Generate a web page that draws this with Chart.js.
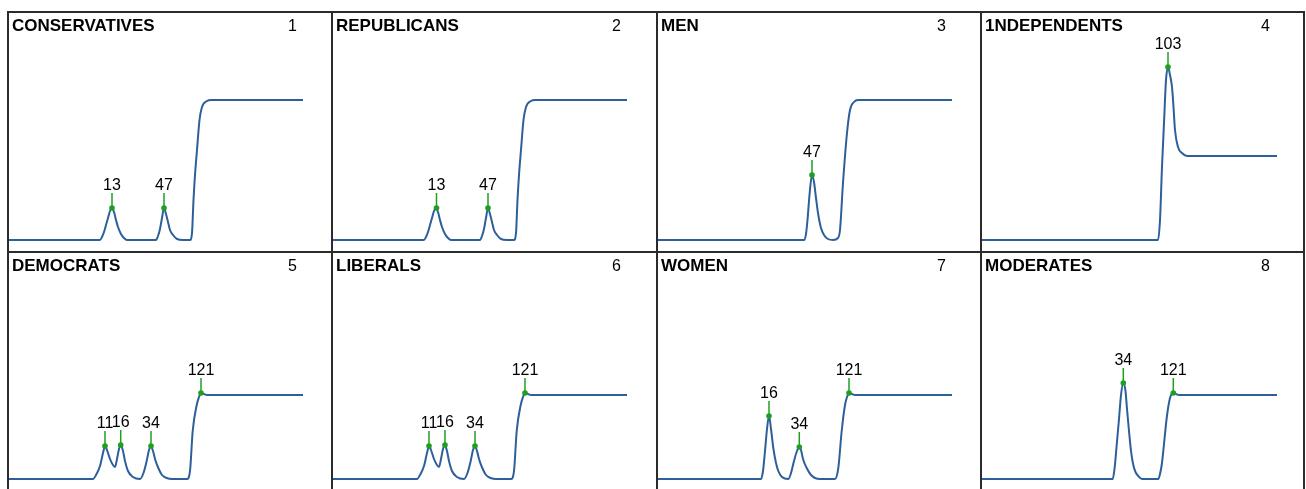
<!DOCTYPE html>
<html><head><meta charset="utf-8">
<script src="https://cdn.jsdelivr.net/npm/chart.js@4.4.1/dist/chart.umd.min.js"></script>
<style>
html,body{margin:0;padding:0;background:#fff;width:1306px;height:489px;overflow:hidden}
#wrap{position:relative;width:1306px;height:489px;background:#fff}
#wrap canvas{position:absolute}
.b{position:absolute;background:#2b2b2b;z-index:5}
</style></head><body><div id="wrap"></div>
<script>
// ---------- data ----------
const panelTitles = ['CONSERVATIVES','REPUBLICANS','MEN','1NDEPENDENTS','DEMOCRATS','LIBERALS','WOMEN','MODERATES'];
const panelNumbers = ['1','2','3','4','5','6','7','8'];

const curve1X = [0,93,95,97,99,101,103,105,107,109,111,114,117,120,149,151,153,155,157,159,161,163,166,170,176,183,185,186.5,188,190,192.5,195,200,204,296];
const curve1Y = [0,0,3,8,15,22,29,32,28,20,13,6,2,0,0,4,11,22,32,26,18,10,5,1,0,0,7,40,65,90,120,133,139,140,140];
const peaks1Labels = ['13','47'];
const peaks1X = [105,157];
const peaks1Y = [32,32];

const curve2X = [0,93,95,97,99,101,103,105,107,109,111,114,117,120,149,151,153,155,157,159,161,163,166,170,176,183,185,186.5,188,190,192.5,195,200,204,296];
const curve2Y = [0,0,3,8,15,22,29,32,28,20,13,6,2,0,0,4,11,22,32,26,18,10,5,1,0,0,7,40,65,90,120,133,139,140,140];
const peaks2Labels = ['13','47'];
const peaks2X = [105.5,157];
const peaks2Y = [32,32];

const curve3X = [0,148,150,151.5,153.5,156,158,160,162,165,168,172,177,182,184,187,191,194,198,202,296];
const curve3Y = [0,0,6,20,45,65,58,42,27,12,5,1,0,2,10,57,107,130,138,140,140];
const peaks3Labels = ['47'];
const peaks3X = [156];
const peaks3Y = [65];

const curve4X = [0,178,180,182,184,186,188,190,192,193.5,195,198,202,207,297];
const curve4Y = [0,0,20,73,117,160,173,165,153,133,110,93,87,84,84];
const peaks4Labels = ['103'];
const peaks4X = [188];
const peaks4Y = [173];

const curve5X = [0,86,89,93,96,98,100,103,106,108,110,112,113.7,116,118,121,126,133,136.5,139.7,142,144,146,148,151.3,155,159.7,165,180,183,185.7,189.7,192,194,197,200,296];
const curve5Y = [0,0,4,13,26,33,29,20,14,12,20,30,34,28,18,8,2,0,6,18,29,33,28,20,11,4,1,0,0,8,48,74,82,86,85,84,84];
const peaks5Labels = ['11','16','34','121'];
const peaks5X = [98,113.7,144,194];
const peaks5Y = [33,34,33,86];

const curve6X = [0,86,89,93,96,98,100,103,106,108,110,112,113.7,116,118,121,126,133,136.5,139.7,142,144,146,148,151.3,155,159.7,165,180,183,185.7,189.7,192,194,197,200,296];
const curve6Y = [0,0,4,13,26,33,29,20,14,12,20,30,34,28,18,8,2,0,6,18,29,33,28,20,11,4,1,0,0,8,48,74,82,86,85,84,84];
const peaks6Labels = ['11','16','34','121'];
const peaks6X = [98,114,144,194];
const peaks6Y = [33,34,33,86];

const curve7X = [0,105,107,109,111,113,115,117.3,120,122.3,126,132.3,135,138,141,143.3,145,147,150.7,155,159,164,179,182.3,185.7,189,191,193,196,199,296];
const curve7Y = [0,0,8,28,50,63,50,31,16,8,2,0,6,18,28,32,29,20,11,4,1,0,0,11,48,74,82,86,85,84,84];
const peaks7Labels = ['16','34','121'];
const peaks7X = [113,143.3,193];
const peaks7Y = [63,32,86];

const curve8X = [0,132.7,134.5,136.7,139,141,143.3,145.5,147,149,151,153.3,155.5,158.3,162,178.3,180,181.7,184,186.7,190,193.3,196,199,297];
const curve8Y = [0,0,10,34,60,84,96,88,70,48,28,14,7,3,0,0,5,14,35,61,81,86,85,84,84];
const peaks8Labels = ['34','121'];
const peaks8X = [143.3,193.3];
const peaks8Y = [96,86];

const curvesX = [curve1X,curve2X,curve3X,curve4X,curve5X,curve6X,curve7X,curve8X];
const curvesY = [curve1Y,curve2Y,curve3Y,curve4Y,curve5Y,curve6Y,curve7Y,curve8Y];
const peaksLabels = [peaks1Labels,peaks2Labels,peaks3Labels,peaks4Labels,peaks5Labels,peaks6Labels,peaks7Labels,peaks8Labels];
const peaksX = [peaks1X,peaks2X,peaks3X,peaks4X,peaks5X,peaks6X,peaks7X,peaks8X];
const peaksY = [peaks1Y,peaks2Y,peaks3Y,peaks4Y,peaks5Y,peaks6Y,peaks7Y,peaks8Y];

// ---------- layout ----------
const colEdges = [7,331,656,980,1303];
const rowEdges = [11,251,489];
const baseOffset = [229,228];
const LINE = '#2d5f9a';
const GREEN = '#1f9e1f';
const wrap = document.getElementById('wrap');

const panelPlugin = {
  id:'panelDeco',
  afterDatasetsDraw(chart, args, opts){
    const ctx = chart.ctx;
    const xs = chart.scales.x, ys = chart.scales.y;
    ctx.save();
    ctx.strokeStyle = GREEN; ctx.lineWidth = 1.5;
    ctx.fillStyle = '#000';
    ctx.font = '16px "Liberation Sans", Arial, sans-serif';
    ctx.textAlign = 'center'; ctx.textBaseline = 'alphabetic';
    opts.labels.forEach((lab,i)=>{
      const px = xs.getPixelForValue(opts.px[i]);
      const py = ys.getPixelForValue(opts.py[i]);
      ctx.beginPath(); ctx.moveTo(px,py); ctx.lineTo(px,py-15); ctx.stroke();
      ctx.fillText(lab, px, py-18);
    });
    ctx.font = 'bold 17px "Liberation Sans", Arial, sans-serif';
    ctx.textAlign = 'left';
    ctx.fillText(opts.title, 5, 20);
    ctx.font = '16px "Liberation Sans", Arial, sans-serif';
    ctx.textAlign = 'center';
    ctx.fillText(opts.num, 285.5, 20);
    ctx.restore();
  }
};

for(let p=0;p<8;p++){
  const col = p%4, row = Math.floor(p/4);
  const left = colEdges[col], w = colEdges[col+1]-left;
  const top = rowEdges[row], h = rowEdges[row+1]-top;
  const cv = document.createElement('canvas');
  cv.width = w; cv.height = h;
  cv.style.left = left+'px'; cv.style.top = top+'px';
  cv.style.width = w+'px'; cv.style.height = h+'px';
  wrap.appendChild(cv);
  const pts = curvesX[p].map((x,i)=>({x:x, y:curvesY[p][i]}));
  const mk = peaksX[p].map((x,i)=>({x:x, y:peaksY[p][i]}));
  new Chart(cv, {
    type:'line',
    data:{datasets:[
      {data:mk, showLine:false, pointRadius:2.8, pointBackgroundColor:GREEN, pointBorderColor:GREEN, pointBorderWidth:0},
      {data:pts, borderColor:LINE, borderWidth:2, pointRadius:0, fill:false, cubicInterpolationMode:'monotone'}
    ]},
    options:{
      responsive:false, animation:false, events:[],
      layout:{padding:0, autoPadding:false},
      plugins:{legend:{display:false}, tooltip:{enabled:false}, title:{display:false},
        panelDeco:{labels:peaksLabels[p], px:peaksX[p], py:peaksY[p], title:panelTitles[p], num:panelNumbers[p]}},
      scales:{
        x:{type:'linear', min:0, max:w, display:false},
        y:{type:'linear', min:-(h-baseOffset[row]), max:baseOffset[row], display:false}
      }
    },
    plugins:[panelPlugin]
  });
}
// grid borders
function bar(l,t,w,h){const d=document.createElement('div');d.className='b';d.style.left=l+'px';d.style.top=t+'px';d.style.width=w+'px';d.style.height=h+'px';wrap.appendChild(d);}
colEdges.forEach(x=>bar(x,11,2,489-11));
bar(7,11,1303-7+2,2);
bar(7,251,1303-7+2,2);
</script>
</body></html>
